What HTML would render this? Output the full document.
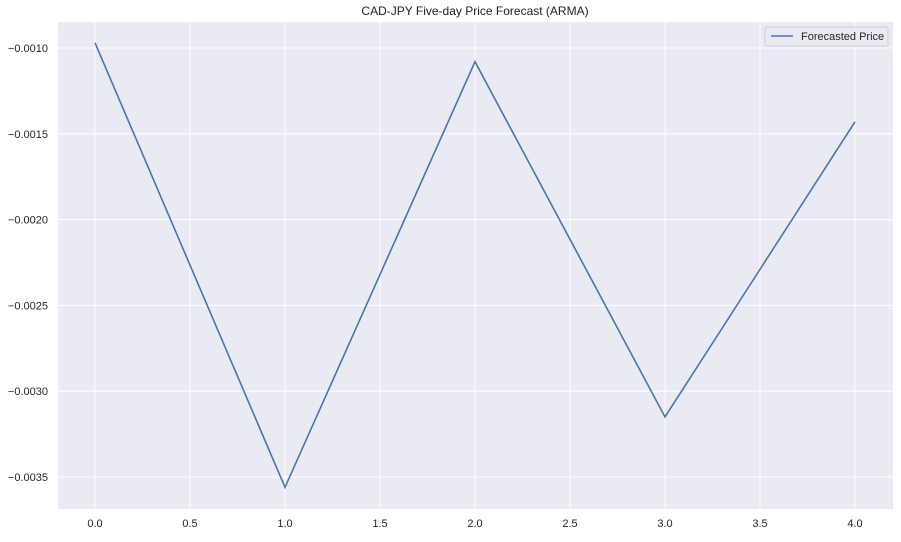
<!DOCTYPE html>
<html><head><meta charset="utf-8"><style>
body{margin:0;background:#fff;font-family:"Liberation Sans",Arial,sans-serif}
</style></head><body>
<svg id="chart" width="901" height="537" font-family="Liberation Sans, Arial, sans-serif">
<text x="475" y="15" text-anchor="middle" font-size="12" fill="#222">CAD-JPY Five-day Price Forecast (ARMA)</text>
<rect x="58" y="22" width="835" height="487" fill="#eaeaf2"/>
<g id="grid"></g>
<g id="ticks"></g>
<path id="line" fill="none" stroke="#4c72b0" stroke-width="1.6"/>
<g>
<rect x="765" y="27" width="123" height="19" rx="2" fill="#eaeaf2" stroke="#cfcfd8"/>
<line x1="771" y1="36" x2="793" y2="36" stroke="#4c72b0" stroke-width="1.6"/>
<text x="801" y="40" font-size="11" fill="#262626">Forecasted Price</text>
</g>
</svg>
<script>
const xs = [0, 1, 2, 3, 4];
const values = [-0.00097, -0.00356, -0.00108, -0.00315, -0.00143];
const xTicks = [0, 0.5, 1, 1.5, 2, 2.5, 3, 3.5, 4];
const yTicks = [-0.0010, -0.0015, -0.0020, -0.0025, -0.0030, -0.0035];
const L=58,R=893,T=22,B=509;
function sx(v){return 95+v*190;}
function sy(v){return 48+(-0.0010-v)/0.0005*85.8;}
const NS="http://www.w3.org/2000/svg";
const grid=document.getElementById('grid'),ticks=document.getElementById('ticks');
xTicks.forEach(t=>{
  const l=document.createElementNS(NS,'line');
  l.setAttribute('x1',sx(t));l.setAttribute('x2',sx(t));l.setAttribute('y1',T);l.setAttribute('y2',B);
  l.setAttribute('stroke','#fff');l.setAttribute('stroke-width','1');
  
  
  grid.appendChild(l);
  const tx=document.createElementNS(NS,'text');
  tx.setAttribute('x',sx(t));tx.setAttribute('y',527);tx.setAttribute('text-anchor','middle');
  tx.setAttribute('font-size','11');tx.setAttribute('fill','#262626');
  tx.textContent=t.toFixed(1);
  
  
  ticks.appendChild(tx);
});
yTicks.forEach(t=>{
  const l=document.createElementNS(NS,'line');
  l.setAttribute('x1',L);l.setAttribute('x2',R);l.setAttribute('y1',sy(t));l.setAttribute('y2',sy(t));
  l.setAttribute('stroke','#fff');l.setAttribute('stroke-width','1');
  
  
  grid.appendChild(l);
  const tx=document.createElementNS(NS,'text');
  tx.setAttribute('x',48);tx.setAttribute('y',sy(t)+4);tx.setAttribute('text-anchor','end');
  tx.setAttribute('font-size','11');tx.setAttribute('fill','#262626');
  tx.textContent='\u2212'+Math.abs(t).toFixed(4);
  
  
  ticks.appendChild(tx);
});
document.getElementById('line').setAttribute('d',xs.map((x,i)=>(i?'L':'M')+sx(x)+' '+sy(values[i])).join(' '));
</script>
</body></html>
